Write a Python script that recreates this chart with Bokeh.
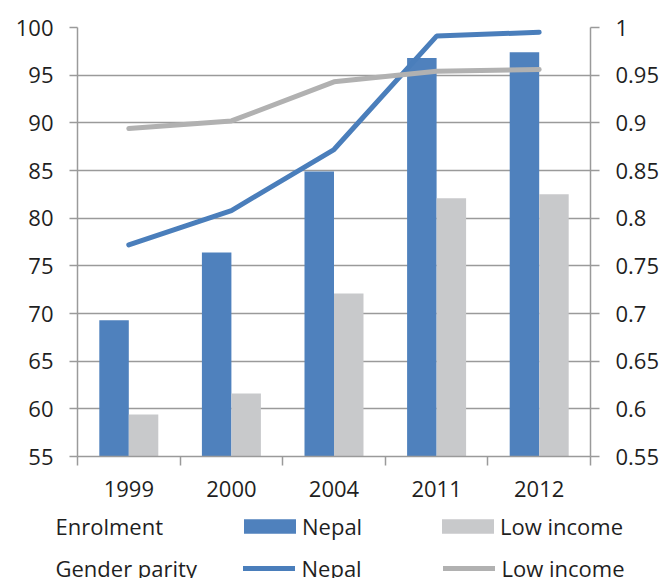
from bokeh.plotting import figure
from bokeh.layouts import column
from bokeh.models import (Range1d, LinearAxis, FixedTicker, NumeralTickFormatter, Legend,
                          LegendItem, Label, ColumnDataSource, Grid)
from bokeh.transform import dodge
from bokeh.embed import file_html
from bokeh.resources import INLINE

# ---- data ----
years = ["1999", "2000", "2004", "2011", "2012"]
enrol_nepal = [69.3, 76.4, 84.9, 96.8, 97.4]
enrol_low = [59.4, 61.6, 72.1, 82.1, 82.5]
gpi_nepal = [0.772, 0.808, 0.872, 0.991, 0.995]
gpi_low = [0.894, 0.902, 0.943, 0.954, 0.956]
left_ticks = [55, 60, 65, 70, 75, 80, 85, 90, 95, 100]
right_ticks = [0.55, 0.6, 0.65, 0.7, 0.75, 0.8, 0.85, 0.9, 0.95, 1.0]
row_titles = ["Enrolment", "Gender parity"]
series_names = ["Nepal", "Low income"]

FONT = "Open Sans"
FS = "22px"
TXT = "#1f1f1f"
AX = "#9a9a9a"
BLUE = "#4F81BD"
BLUE_LINE = "#4A7EBB"
GRAY_BAR = "#C8C9CB"
GRAY_LINE = "#B1B1B1"

xpos = [i + 0.5 for i in range(len(years))]
src = ColumnDataSource(dict(x=xpos, en=enrol_nepal, el=enrol_low, gn=gpi_nepal, gl=gpi_low))

MAIN_H = 510
p = figure(width=666, height=MAIN_H, x_range=Range1d(0, len(years)), y_range=Range1d(55, 100),
           output_backend="svg", toolbar_location=None,
           x_axis_type=None, y_axis_type=None,
           min_border_left=77, min_border_right=76, min_border_top=27,
           min_border_bottom=MAIN_H - 456)
p.frame_align = False
p.outline_line_color = None
p.extra_y_ranges = {"gpi": Range1d(0.55, 1.0)}

def style_axis(ax):
    ax.axis_line_color = AX
    ax.axis_line_width = 1.5
    ax.major_label_text_font = FONT
    ax.major_label_text_font_size = FS
    ax.major_label_text_color = TXT
    ax.major_tick_line_color = AX
    ax.major_tick_line_width = 1.5
    ax.major_tick_in = 0
    ax.minor_tick_line_color = None

yl = LinearAxis(ticker=FixedTicker(ticks=left_ticks))
style_axis(yl)
yl.major_tick_out = 8
yl.major_label_standoff = 16
p.add_layout(yl, "left")

yr = LinearAxis(y_range_name="gpi", ticker=FixedTicker(ticks=right_ticks),
                formatter=NumeralTickFormatter(format="0.[00]"))
style_axis(yr)
yr.major_tick_out = 9
yr.major_label_standoff = 16
p.add_layout(yr, "right")

xb = LinearAxis(ticker=FixedTicker(ticks=xpos, minor_ticks=list(range(len(years) + 1))),
                major_label_overrides={x: y for x, y in zip(xpos, years)})
style_axis(xb)
xb.major_tick_line_color = None
xb.major_tick_out = 9
xb.minor_tick_line_color = AX
xb.minor_tick_line_width = 1.5
xb.minor_tick_in = 0
xb.minor_tick_out = 9
xb.major_label_standoff = 15
p.add_layout(xb, "below")

p.add_layout(Grid(dimension=1, ticker=yl.ticker, grid_line_color=AX, grid_line_width=1.5))

bw = 0.2875
p.vbar(x=dodge("x", -bw / 2, range=p.x_range), top="en", bottom=55, width=bw, source=src,
       fill_color=BLUE, line_color=None)
p.vbar(x=dodge("x", bw / 2, range=p.x_range), top="el", bottom=55, width=bw, source=src,
       fill_color=GRAY_BAR, line_color=None)
p.line(x="x", y="gn", source=src, y_range_name="gpi", line_color=BLUE_LINE, line_width=5,
       line_cap="round")
p.line(x="x", y="gl", source=src, y_range_name="gpi", line_color=GRAY_LINE, line_width=5,
       line_cap="round")

# ---- legend strip (separate figure below, 1 data unit = 1 pixel) ----
LEG_H = 578 - MAIN_H
q = figure(width=666, height=LEG_H, x_range=Range1d(0, 666), y_range=Range1d(LEG_H, 0),
           output_backend="svg", toolbar_location=None, x_axis_type=None, y_axis_type=None,
           min_border=0)
q.frame_align = False
q.outline_line_color = None
# legend-only proxies (placed off-frame so only their legend swatches show)
off = ColumnDataSource(dict(x=[-1000, -999], y=[-1000, -999]))
r1 = q.vbar(x="x", top="y", width=1, source=off, fill_color=BLUE, line_color=None)
r2 = q.vbar(x="x", top="y", width=1, source=off, fill_color=GRAY_BAR, line_color=None)
r3 = q.line(x="x", y="y", source=off, line_color=BLUE_LINE, line_width=5, line_cap="round")
r4 = q.line(x="x", y="y", source=off, line_color=GRAY_LINE, line_width=5, line_cap="round")

def mk_legend(items, loc, gw, gh, standoff, spacing):
    return Legend(items=items, orientation="horizontal", location=loc,
                  glyph_width=gw, glyph_height=gh, label_standoff=standoff, label_width=120,
                  spacing=spacing, padding=0, margin=0, border_line_color=None,
                  background_fill_alpha=0, label_text_font=FONT, label_text_font_size=FS,
                  label_text_color=TXT)

leg1 = mk_legend([LegendItem(label=series_names[0], renderers=[r1]),
                  LegendItem(label=series_names[1], renderers=[r2])],
                 (237, 37.5), 65, 18, 0, 13)
leg2 = mk_legend([LegendItem(label=series_names[0], renderers=[r3]),
                  LegendItem(label=series_names[1], renderers=[r4])],
                 (242.5, -4.7), 52, 18, 7, 21)
q.add_layout(leg1, "center")
q.add_layout(leg2, "center")

q.add_layout(Label(x=55, y=525.5 - MAIN_H, text=row_titles[0],
                   text_font=FONT, text_font_size=FS, text_color=TXT, text_baseline="middle"))
q.add_layout(Label(x=55, y=567.7 - MAIN_H, text=row_titles[1],
                   text_font=FONT, text_font_size=FS, text_color=TXT, text_baseline="middle"))

layout = column(p, q, spacing=0)
open("out.html", "w").write(file_html(layout, INLINE))
